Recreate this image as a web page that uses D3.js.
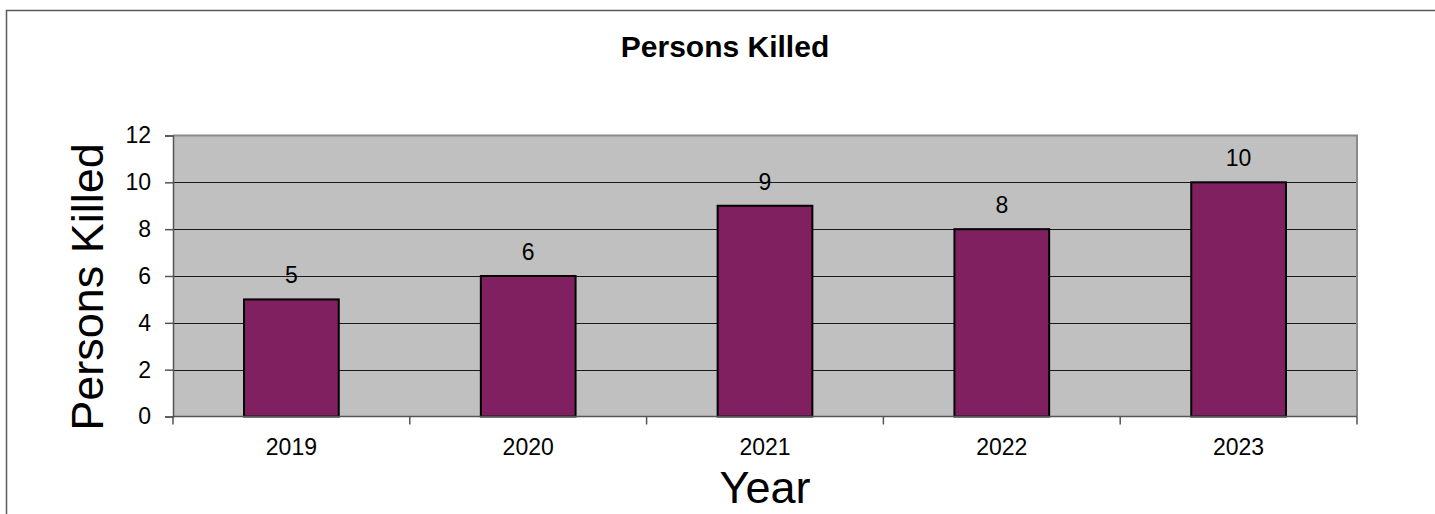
<!DOCTYPE html>
<html>
<head>
<meta charset="utf-8">
<script src="https://cdn.jsdelivr.net/npm/d3@7"></script>
<style>
  html, body { margin: 0; padding: 0; background: #ffffff; overflow: hidden; }
  svg { display: block; font-family: "Liberation Sans", Arial, sans-serif; }
</style>
</head>
<body>
<svg id="chart" width="1435" height="514"></svg>
<script>
// ---- data ----
const categories = ["2019", "2020", "2021", "2022", "2023"];
const values = [5, 6, 9, 8, 10];
const yTicks = [0, 2, 4, 6, 8, 10, 12];
const chartTitle = "Persons Killed";
const yTitle = "Persons Killed";
const xTitle = "Year";

// ---- layout ----
const W = 1435, H = 514;
const plot = { left: 173, top: 135.5, right: 1357, bottom: 416.5 };

const svg = d3.select("#chart");

// outer chart border (left and top only visible; continues beyond the frame)
svg.append("path")
  .attr("d", `M6.5,${H + 10} V10.5 H${W + 10}`)
  .attr("fill", "none")
  .attr("stroke", "#5a5a5a")
  .attr("stroke-width", 1.5);

const x = d3.scaleBand()
  .domain(categories)
  .range([plot.left, plot.right])
  .paddingInner(0).paddingOuter(0);

const y = d3.scaleLinear()
  .domain([0, 12])
  .range([plot.bottom, plot.top]);

// plot area background
svg.append("rect")
  .attr("x", plot.left).attr("y", plot.top)
  .attr("width", plot.right - plot.left)
  .attr("height", plot.bottom - plot.top)
  .attr("fill", "#c0c0c0");

// gridlines
svg.append("g")
  .selectAll("line")
  .data(yTicks.filter(t => t > 0 && t < 12))
  .join("line")
  .attr("x1", plot.left).attr("x2", plot.right)
  .attr("y1", d => Math.round(y(d)) + 0.5)
  .attr("y2", d => Math.round(y(d)) + 0.5)
  .attr("stroke", "#1a1a1a")
  .attr("stroke-width", 1);

// plot border (top & right gray)
svg.append("path")
  .attr("d", `M${plot.left},${plot.top} H${plot.right} V${plot.bottom}`)
  .attr("fill", "none")
  .attr("stroke", "#8a8a8a")
  .attr("stroke-width", 2);

// bars
const barW = x.bandwidth() * 0.4;
svg.append("g")
  .selectAll("rect")
  .data(values)
  .join("rect")
  .attr("x", (d, i) => x(categories[i]) + (x.bandwidth() - barW) / 2)
  .attr("y", d => y(d))
  .attr("width", barW)
  .attr("height", d => y(0) - y(d))
  .attr("fill", "#802060")
  .attr("stroke", "#000000")
  .attr("stroke-width", 2);

// data labels
svg.append("g")
  .selectAll("text")
  .data(values)
  .join("text")
  .attr("x", (d, i) => x(categories[i]) + x.bandwidth() / 2)
  .attr("y", d => y(d) - 16)
  .attr("text-anchor", "middle")
  .attr("font-size", 23)
  .attr("fill", "#000")
  .text(d => d);

// y axis
const yAxis = d3.axisLeft(y)
  .tickValues(yTicks)
  .tickSize(8)
  .tickPadding(14)
  .tickFormat(d3.format("d"));
const gy = svg.append("g")
  .attr("transform", `translate(${plot.left},0)`)
  .call(yAxis);
gy.select(".domain").attr("stroke", "#555").attr("stroke-width", 1.5);
gy.selectAll(".tick line").attr("stroke", "#555").attr("stroke-width", 1.5);
gy.selectAll(".tick text")
  .attr("font-size", 23)
  .attr("font-family", "'Liberation Sans', Arial, sans-serif")
  .attr("fill", "#000");

// x axis: ticks at category boundaries
const gx = svg.append("g")
  .attr("transform", `translate(0,${plot.bottom})`);
gx.append("line")
  .attr("x1", plot.left).attr("x2", plot.right)
  .attr("y1", 0).attr("y2", 0)
  .attr("stroke", "#555").attr("stroke-width", 1.5);
const boundaries = categories.map(c => x(c)).concat([x.range()[1]]);
gx.selectAll("line.tk")
  .data(boundaries)
  .join("line")
  .attr("class", "tk")
  .attr("x1", d => d).attr("x2", d => d)
  .attr("y1", 0).attr("y2", 8)
  .attr("stroke", "#555").attr("stroke-width", 1.5);
gx.selectAll("text")
  .data(categories)
  .join("text")
  .attr("x", d => x(d) + x.bandwidth() / 2)
  .attr("y", 38.5)
  .attr("text-anchor", "middle")
  .attr("font-size", 23)
  .attr("fill", "#000")
  .text(d => d);

// chart title
svg.append("text")
  .attr("x", 725).attr("y", 57)
  .attr("text-anchor", "middle")
  .attr("font-size", 30)
  .attr("font-weight", "bold")
  .attr("fill", "#000")
  .text(chartTitle);

// y axis title
svg.append("text")
  .attr("transform", `translate(103, 287) rotate(-90)`)
  .attr("text-anchor", "middle")
  .attr("font-size", 45)
  .attr("fill", "#000")
  .text(yTitle);

// x axis title
svg.append("text")
  .attr("x", (plot.left + plot.right) / 2)
  .attr("y", 503)
  .attr("text-anchor", "middle")
  .attr("font-size", 45)
  .attr("fill", "#000")
  .text(xTitle);
</script>
</body>
</html>
